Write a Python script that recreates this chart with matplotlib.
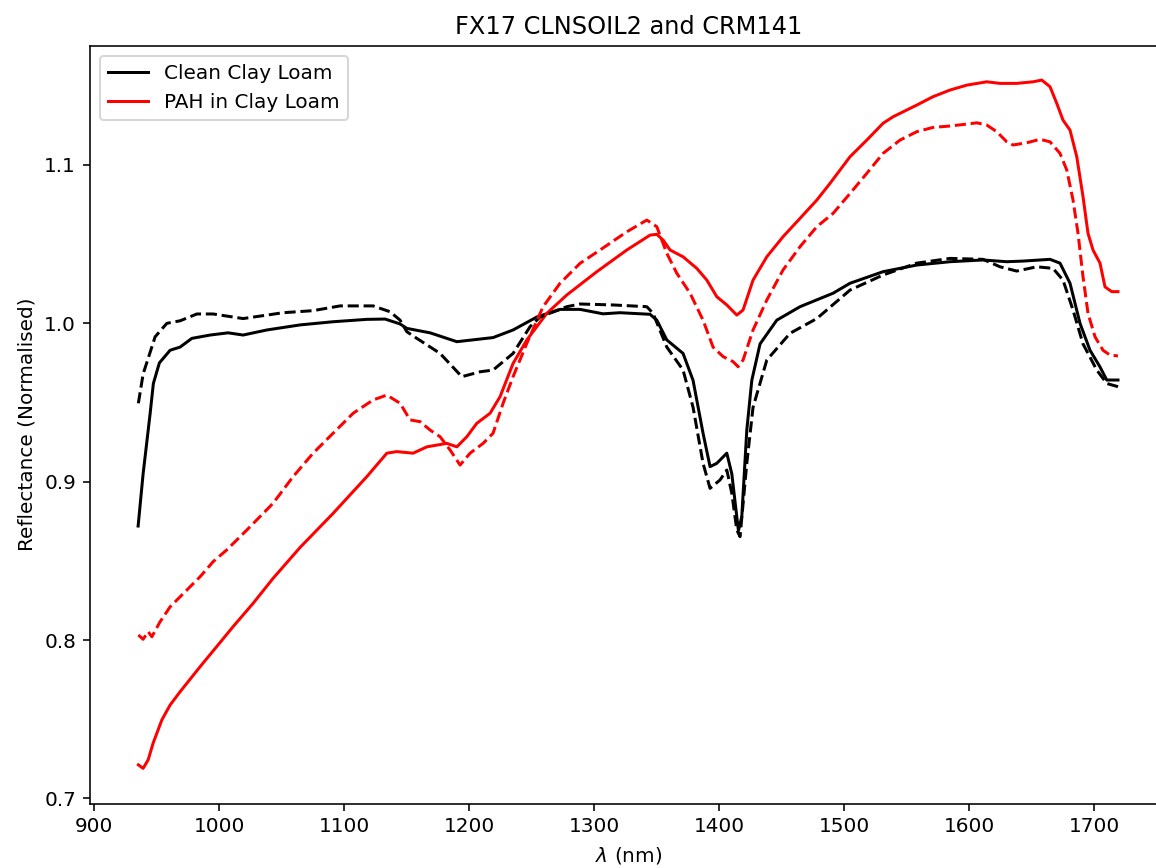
import numpy as np
import matplotlib
matplotlib.use("Agg")
import matplotlib.pyplot as plt

# Clean clay loam, two scans (solid / dashed)
clean_wl = [935, 939, 944.6, 947.2, 952, 960.6, 968.6, 978, 992.6, 1007, 1019, 1038,
            1064.6, 1091, 1118, 1132.6, 1144.6, 1150, 1168.6, 1190, 1219, 1235, 1254,
            1272.6, 1288.6, 1307, 1320.6, 1344.6, 1350, 1358, 1371, 1379, 1387, 1392.6,
            1398, 1406, 1410, 1415.3, 1418, 1422, 1426, 1432.6, 1446, 1464.6, 1491,
            1504.6, 1531, 1558, 1584.6, 1611, 1630, 1643, 1664.6, 1672.6, 1680.6,
            1688.6, 1696.6, 1704.5, 1710, 1719]
clean_refl = [0.872, 0.905, 0.943, 0.962, 0.975, 0.983, 0.985, 0.9905, 0.9926, 0.994,
              0.9926, 0.9958, 0.999, 1.001, 1.0025, 1.0027, 0.9996, 0.9968, 0.994,
              0.9884, 0.991, 0.9958, 1.004, 1.0088, 1.0088, 1.006, 1.0067, 1.0057,
              1.002, 0.9895, 0.981, 0.964, 0.9306, 0.9095, 0.9116, 0.918, 0.905,
              0.869, 0.878, 0.9326, 0.964, 0.987, 1.002, 1.0105, 1.019, 1.0253, 1.0326,
              1.0368, 1.0389, 1.040, 1.0389, 1.0393, 1.0404, 1.038, 1.0253, 1.000,
              0.983, 0.9726, 0.9642, 0.9642]

clean2_wl = [935.2, 939, 948.6, 958, 968.6, 982, 995, 1019, 1051, 1075, 1096.6, 1123,
             1136.6, 1144.6, 1150, 1158, 1176.6, 1194, 1208.6, 1219, 1235, 1248.6,
             1256.6, 1278, 1288.6, 1315, 1342, 1347, 1358, 1371, 1379, 1387, 1392.6,
             1400.6, 1406, 1410, 1414, 1416.6, 1422, 1427, 1438, 1456.6, 1478, 1504.6,
             1531, 1558, 1584.6, 1611, 1624.6, 1638, 1654, 1667, 1675, 1683, 1691,
             1702, 1710, 1719]
clean2_refl = [0.9495, 0.968, 0.9915, 1.000, 1.0016, 1.0059, 1.0059, 1.003, 1.0067,
               1.008, 1.011, 1.011, 1.0073, 1.002, 0.9947, 0.9905, 0.981, 0.9663,
               0.9694, 0.9705, 0.981, 0.9979, 1.004, 1.0105, 1.0122, 1.0116, 1.0105,
               1.0063, 0.985, 0.9705, 0.947, 0.9116, 0.8958, 0.9011, 0.9074, 0.8927,
               0.8695, 0.8653, 0.9116, 0.947, 0.9768, 0.9937, 1.003, 1.021, 1.0305,
               1.038, 1.041, 1.0404, 1.0357, 1.033, 1.0357, 1.0347, 1.0273, 1.0084,
               0.987, 0.9705, 0.962, 0.960]

# PAH contaminated clay loam, two scans (solid / dashed)
pah_wl = [935.2, 939, 943, 947, 954, 960.6, 968.6, 984.6, 998, 1011, 1027, 1043,
          1064.6, 1091, 1118, 1134, 1142, 1155, 1166, 1182, 1190, 1198, 1206, 1216.6,
          1224.6, 1235, 1246, 1262, 1278, 1302, 1326, 1344.6, 1350, 1355, 1360.6,
          1371, 1382, 1390, 1398, 1406, 1414, 1419, 1427, 1438, 1451, 1464.6, 1478,
          1488.6, 1504.6, 1518, 1531, 1539, 1544.6, 1558, 1571, 1584.6, 1598, 1614,
          1624.6, 1638, 1651, 1658, 1664.6, 1670, 1675, 1680.6, 1686, 1691, 1695,
          1699, 1704.6, 1708.6, 1714, 1719]
pah_refl = [0.7212, 0.719, 0.7243, 0.7349, 0.7496, 0.759, 0.7674, 0.7832, 0.796,
            0.8085, 0.8232, 0.839, 0.8585, 0.880, 0.9032, 0.918, 0.919, 0.918, 0.922,
            0.9242, 0.922, 0.9284, 0.9369, 0.9432, 0.9537, 0.9747, 0.9895, 1.0063,
            1.0179, 1.0326, 1.0463, 1.0557, 1.0562, 1.0526, 1.0463, 1.042, 1.0347,
            1.0273, 1.0168, 1.0116, 1.0052, 1.0084, 1.0273, 1.042, 1.0547, 1.0663,
            1.0778, 1.0884, 1.1052, 1.1157, 1.1263, 1.1304, 1.1326, 1.1378, 1.1431,
            1.1473, 1.1504, 1.1525, 1.1515, 1.1515, 1.1525, 1.1536, 1.1494, 1.1389,
            1.1283, 1.122, 1.1052, 1.080, 1.0568, 1.0463, 1.038, 1.023, 1.020, 1.020]

pah2_wl = [935.2, 939, 943, 946, 952.6, 960.6, 974, 984.6, 995, 1006, 1022, 1043,
           1059, 1075, 1091, 1107, 1123, 1134, 1144.6, 1152.6, 1160.6, 1168.6, 1176.6,
           1184.6, 1192.6, 1200.6, 1211, 1219, 1227, 1235, 1246, 1259, 1272.6, 1288.6,
           1304.6, 1326, 1342, 1350, 1358, 1366, 1376.6, 1387, 1395, 1403, 1411, 1415,
           1419, 1427, 1438, 1451, 1464.6, 1478, 1491, 1504.6, 1518, 1531, 1544.6,
           1558, 1571, 1584.6, 1598, 1606, 1614, 1622, 1630, 1635, 1646, 1656.6,
           1664.6, 1672.6, 1678, 1683, 1687, 1691, 1695, 1700.6, 1707, 1712.5, 1719]
pah2_refl = [0.8032, 0.8005, 0.8053, 0.8021, 0.8116, 0.821, 0.8316, 0.840, 0.8495,
             0.857, 0.8695, 0.8864, 0.9032, 0.918, 0.9306, 0.9432, 0.9516, 0.9547,
             0.9495, 0.939, 0.9379, 0.9326, 0.9284, 0.920, 0.9105, 0.918, 0.9242,
             0.9306, 0.9495, 0.9663, 0.9874, 1.0105, 1.0253, 1.0379, 1.0463, 1.0578,
             1.0652, 1.061, 1.0442, 1.0316, 1.019, 1.002, 0.985, 0.979, 0.9758, 0.9726,
             0.9768, 0.9958, 1.0147, 1.0337, 1.0484, 1.061, 1.0694, 1.082, 1.0947,
             1.1073, 1.1157, 1.121, 1.1237, 1.1246, 1.1258, 1.1266, 1.1252, 1.121,
             1.1146, 1.1126, 1.114, 1.1162, 1.1146, 1.1073, 1.0968, 1.0779, 1.0568,
             1.0294, 1.0063, 0.9915, 0.983, 0.980, 0.9794]

fig = plt.figure(figsize=(1156 / 144, 868 / 144), dpi=144)
ax = fig.add_axes([90 / 1156, 64.5 / 868, 1077 / 1156, 757.8 / 868])

ax.plot(clean_wl, clean_refl, color='black', label='Clean Clay Loam')
ax.plot(pah_wl, pah_refl, color='red', label='PAH in Clay Loam')
ax.plot(clean2_wl, clean2_refl, color='black', linestyle='--')
ax.plot(pah2_wl, pah2_refl, color='red', linestyle='--')

ax.set_xlim(896.5, 1758.2)
ax.set_ylim(0.6968, 1.1753)
ax.set_xticks(np.arange(900, 1701, 100))
ax.set_yticks([0.7, 0.8, 0.9, 1.0, 1.1])
ax.spines['right'].set_visible(False)
ax.set_xlabel(r'$\lambda$ (nm)')
ax.set_ylabel('Reflectance (Normalised)')
ax.set_title('FX17 CLNSOIL2 and CRM141')
ax.legend(loc='upper left')

fig.savefig('out.png', dpi=144)
